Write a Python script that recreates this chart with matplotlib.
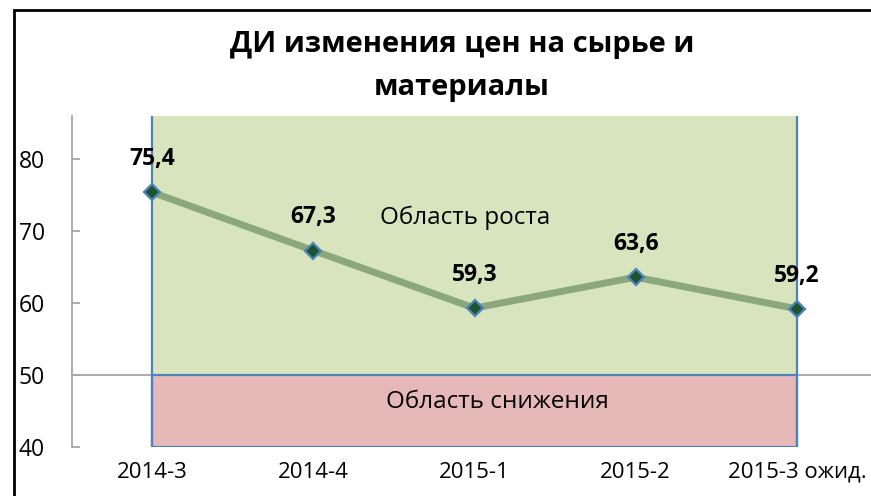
import matplotlib
matplotlib.use('Agg')
import matplotlib.pyplot as plt
from matplotlib.patches import Rectangle

plt.rcParams['font.family'] = ['Open Sans', 'DejaVu Sans']

# chart data
categories = ['2014-3', '2014-4', '2015-1', '2015-2', '2015-3 ожид.']
values = [75.4, 67.3, 59.3, 63.6, 59.2]
labels = ['75,4', '67,3', '59,3', '63,6', '59,2']
title = 'ДИ изменения цен на сырье и\nматериалы'
growth_text = 'Область роста'
decline_text = 'Область снижения'
y_ticks = [40, 50, 60, 70, 80]

Y_MIN, Y_MAX, Y_SPLIT = 40, 86, 50
BLUE = '#4F81BD'
GRAY = '#A6A6A6'

W, H = 871, 496
fig = plt.figure(figsize=(W / 100, H / 100), dpi=100)
# axes runs past the right edge, like the original
ax = fig.add_axes([71.5 / W, 1 - 447 / H, 806 / W, (447 - 116) / H])

x = list(range(len(categories)))
ax.set_xlim(-0.5, len(categories) - 0.5)
ax.set_ylim(Y_MIN, Y_MAX)

# background zones
ax.fill_between([x[0], x[-1]], Y_SPLIT, Y_MAX, color='#D7E4BD', lw=0, zorder=1)
ax.add_patch(Rectangle((x[0], Y_MIN), x[-1] - x[0], Y_SPLIT - Y_MIN,
                       facecolor='#E6B9B8', edgecolor=BLUE, lw=1.6, zorder=1.5))
ax.vlines([x[0], x[-1]], Y_MIN, Y_MAX, color=BLUE, lw=1.6, zorder=1.6)

ax.text(1.94, 71.9, growth_text, fontsize=17.5, ha='center', va='center', zorder=3)
ax.text(2.14, 46.25, decline_text, fontsize=17.5, ha='center', va='center', zorder=3)

# the series
ax.plot(x, values, color='#8BA77D', lw=5, zorder=4, solid_capstyle='butt')
ax.plot(x, values, ls='none', marker='D', ms=8.5, mfc='#1A5530', mec=BLUE,
        mew=1.6, zorder=5)
for xi, v, lab in zip(x, values, labels):
    ax.annotate(lab, (xi, v), xytext=(0, 24), textcoords='offset points',
                ha='center', va='center', fontsize=16.5, fontweight='bold', zorder=6)

# axes styling
for s in ['top', 'right', 'bottom']:
    ax.spines[s].set_visible(False)
ax.spines['left'].set_color(GRAY)
ax.spines['left'].set_linewidth(1.3)
ax.set_yticks(y_ticks)
ax.set_yticklabels([str(t) for t in y_ticks])
ax.tick_params(axis='y', direction='in', length=6, width=1.3, color=GRAY,
               labelsize=16.5, pad=19)
ax.set_xticks(x)
ax.set_xticklabels(categories)
ax.tick_params(axis='x', length=0, labelsize=16, pad=10.5)

# category axis crossing at 50
sec = ax.secondary_xaxis((Y_SPLIT - Y_MIN) / (Y_MAX - Y_MIN))
sec.set_xticks([i + 0.5 for i in x[:-1]])
sec.set_xticklabels([])
sec.spines['bottom'].set_color(GRAY)
sec.spines['bottom'].set_linewidth(1.3)
sec.tick_params(axis='x', direction='out', length=6, width=1.3, color=GRAY)

fig.text(462 / W, 1 - 66 / H, title, ha='center', va='center', fontsize=21,
         fontweight='bold', linespacing=1.6)

# chart frame
fig.patches.append(Rectangle((14 / W, -0.5), 2, 1.5 - 10 / H, fill=False,
                             edgecolor='black', lw=2, transform=fig.transFigure,
                             figure=fig))

fig.savefig('out.png', dpi=100)
